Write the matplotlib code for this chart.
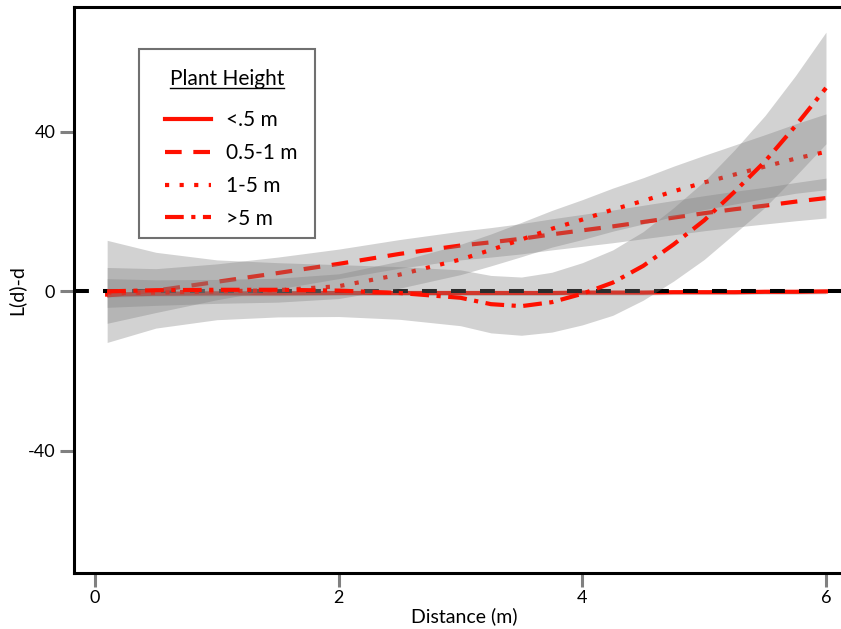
import matplotlib.pyplot as plt
from matplotlib.lines import Line2D
from matplotlib.patches import Rectangle
import numpy as np

plt.rcParams['font.family'] = ['Lato', 'DejaVu Sans']
plt.rcParams['axes.unicode_minus'] = False

# distance (m)
dist = [0.1, 0.5, 1.0, 1.5, 2.0, 2.5, 3.0, 3.25, 3.5, 3.75, 4.0,
        4.25, 4.5, 4.75, 5.0, 5.25, 5.5, 5.75, 6.0]

# L(d)-d per plant height class, and half width of the grey band
h_small = [-0.8, -0.6, -0.5, -0.5, -0.4, -0.4, -0.4, -0.4, -0.4, -0.4, -0.3,
           -0.3, -0.3, -0.2, -0.2, -0.2, -0.1, -0.1, 0.0]
h_small_ci = [0.6] * 19

h_mid = [-1.0, 0.2, 2.4, 4.6, 6.9, 9.4, 11.5, 12.3, 13.2, 14.3, 15.3,
         16.3, 17.4, 18.5, 19.6, 20.6, 21.5, 22.5, 23.4]
h_mid_ci = [7.0, 5.5, 4.5, 4.0, 3.7, 3.6, 3.6, 3.7, 3.8, 3.9, 4.0,
            4.1, 4.2, 4.3, 4.4, 4.5, 4.6, 4.8, 5.0]

h_tall = [-0.4, -0.3, 0.0, 0.3, 1.3, 4.2, 8.0, 10.4, 13.0, 15.7, 18.0,
          20.5, 22.7, 25.1, 27.3, 29.3, 31.3, 33.3, 35.0]
h_tall_ci = [3.6, 3.2, 3.0, 3.0, 3.1, 3.4, 3.8, 4.0, 4.3, 4.6, 5.0,
             5.4, 5.8, 6.3, 6.8, 7.4, 8.0, 8.7, 9.5]

h_tree = [0.0, 0.3, 0.4, 0.4, 0.2, -0.4, -1.6, -3.2, -3.7, -2.7, -0.6,
          2.2, 6.4, 11.8, 17.8, 25.0, 32.6, 41.5, 51.0]
h_tree_ci = [12.8, 9.5, 7.5, 6.8, 6.5, 6.6, 7.0, 7.2, 7.3, 7.5, 7.8,
             8.2, 8.6, 9.2, 9.8, 10.5, 11.5, 12.6, 14.0]

labels = ['<.5 m', '0.5-1 m', '1-5 m', '>5 m']
series = [h_small, h_mid, h_tall, h_tree]
bands = [h_small_ci, h_mid_ci, h_tall_ci, h_tree_ci]
dash_styles = [None, (4, 2.8), (1, 2.5), (4.5, 1.8, 1, 1.8)]

red = '#ff1000'
W, H = 841, 629

fig = plt.figure(figsize=(W / 100, H / 100), dpi=100)
ax = fig.add_axes([74 / W, 56 / H, 780 / W, 566 / H])

x = np.array(dist)
z = 2
handles = []
for i in range(4):
    y = np.array(series[i])
    ci = np.array(bands[i])
    ax.fill_between(x, y - ci, y + ci, color='#808080', alpha=0.35,
                    linewidth=0, zorder=z)
    if dash_styles[i] is None:
        ln, = ax.plot(x, y, color=red, lw=3, zorder=z + 1, label=labels[i])
        # reference line at zero sits over the first line, under the bands
        ax.axhline(0, color='black', lw=2.9, dashes=(3.7, 3.5), zorder=z + 2)
    else:
        ln, = ax.plot(x, y, color=red, lw=3, dashes=dash_styles[i],
                      zorder=z + 1, label=labels[i])
    handles.append(ln)
    z += 3

ax.set_xlim(-0.172, 6.23)
ax.set_ylim(-70.6, 71.3)
ax.set_xticks([0, 2, 4, 6])
ax.set_yticks([-40, 0, 40])
ax.tick_params(axis='both', direction='out', length=10, width=2.2,
               color='#808080', labelsize=13)
ax.tick_params(axis='x', pad=2)
ax.tick_params(axis='y', pad=3.5)
for side in ['left', 'top', 'bottom']:
    ax.spines[side].set_linewidth(2.2)
    ax.spines[side].set_color('black')
ax.spines['right'].set_visible(False)

ax.set_xlabel('Distance (m)', fontsize=14, labelpad=1)
ax.set_ylabel('L(d)-d', fontsize=14)
ax.yaxis.label.set_va('center')
ax.yaxis.set_label_coords((16 - 74) / 780, 0.5)

# legend: frame and title drawn by hand, entries from fig.legend
fig.add_artist(Rectangle((139 / W, 1 - 238 / H), 176 / W, 189 / H,
                         transform=fig.transFigure, facecolor='white',
                         edgecolor='#707070', lw=1.5, zorder=29))
title = fig.text(227 / W, 1 - 79 / H, 'Plant Height', fontsize=15,
                 ha='center', va='center', zorder=31)
leg = fig.legend(handles=handles, loc='upper left',
                 bbox_to_anchor=(165 / W, 1 - 110 / H),
                 borderaxespad=0, borderpad=0,
                 fontsize=15, frameon=False, handlelength=2.2,
                 handletextpad=0.75, labelspacing=0.62)
leg.set_zorder(31)

fig.canvas.draw()
tb = title.get_window_extent(fig.canvas.get_renderer())
inv = fig.transFigure.inverted()
(x0, y0), (x1, _) = inv.transform([(tb.x0, tb.y0 + 1), (tb.x1, tb.y0)])
fig.add_artist(Line2D([x0, x1], [y0, y0], color='black', lw=1,
                      transform=fig.transFigure, zorder=32))

fig.savefig('out.png', dpi=100)
